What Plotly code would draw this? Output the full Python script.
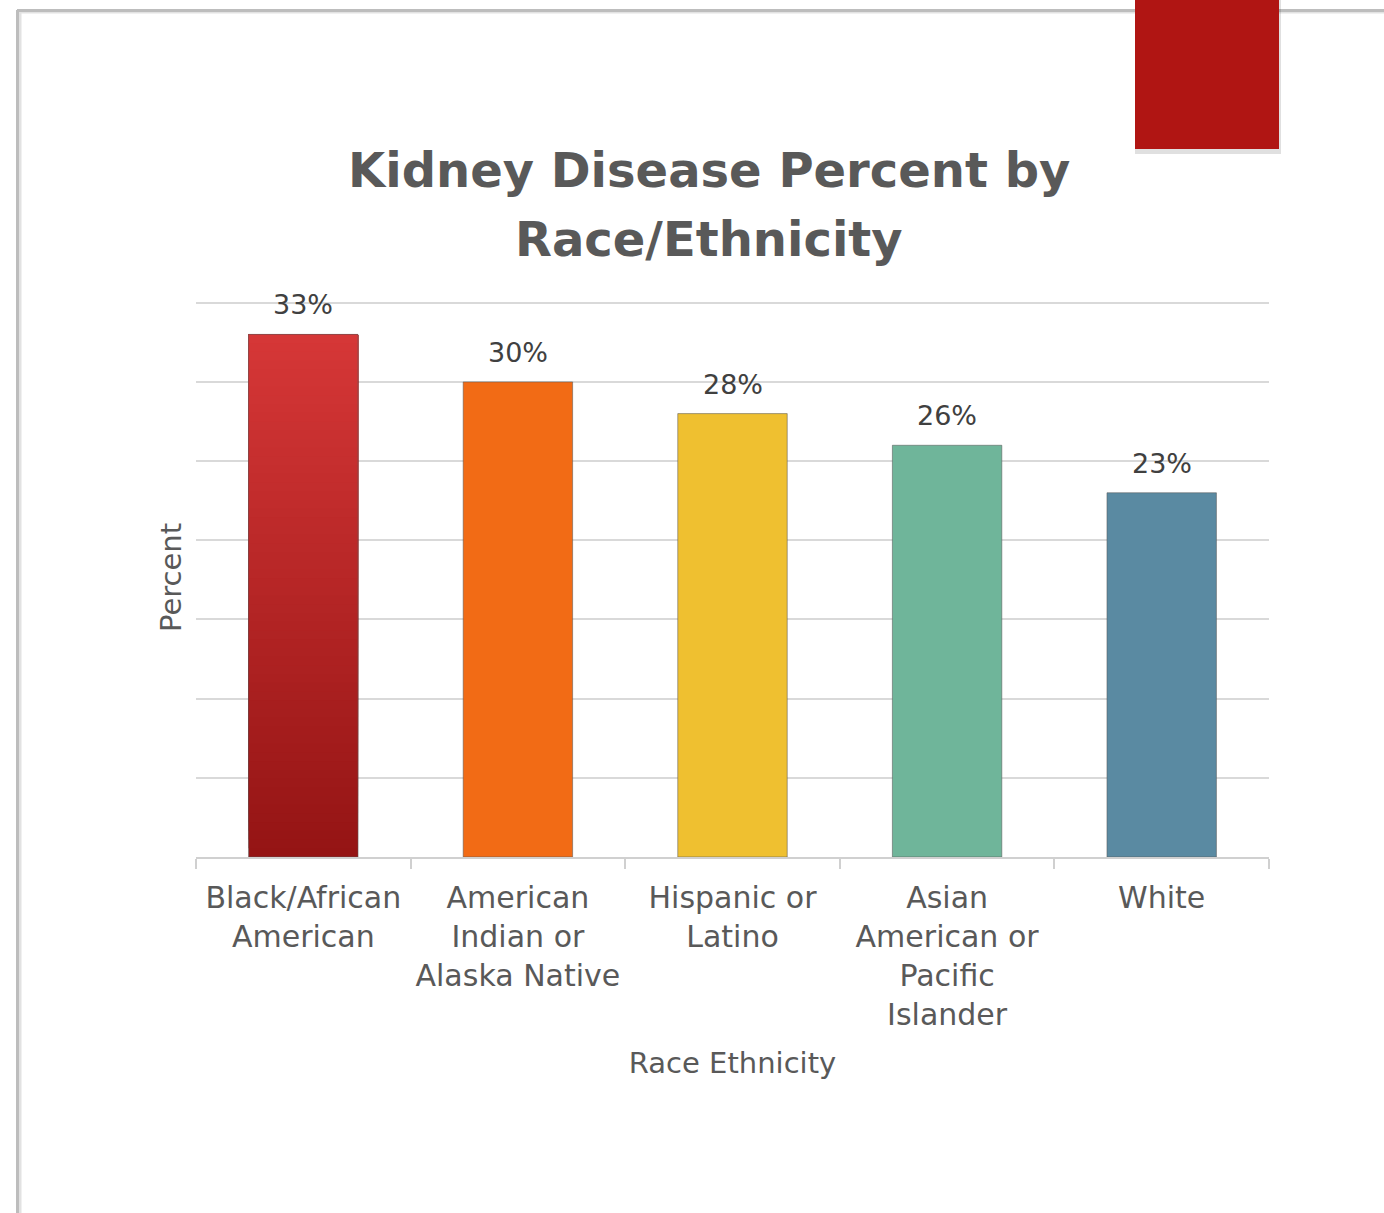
import plotly.graph_objects as go

categories = ["Black/African<br>American", "American<br>Indian or<br>Alaska Native",
              "Hispanic or<br>Latino", "Asian<br>American or<br>Pacific<br>Islander", "White"]
values = [33, 30, 28, 26, 23]
bar_colors = ["#C02C2C", "#F26B15", "#EFC030", "#6FB59A", "#5A8AA2"]
labels = [f"{v}%" for v in values]
title_lines = ["Kidney Disease Percent by", "Race/Ethnicity"]

W, H = 1384, 1213
YMAX = 35.3
L, R, B = 196, 1269, 857
T = B - round((B - 303) * YMAX / 35)

FONT = "DejaVu Sans"

def px_x(p):
    return (p - L) / (R - L)

def px_y(p):
    return (B - p) / (B - T)

fig = go.Figure()

# gradient for first bar via nested segments (each later segment covers the upper part)
N = 60
top_rgb = (0xD6, 0x37, 0x37)
bot_rgb = (0x94, 0x14, 0x14)
seg_colors = []
for i in range(N):
    t = (i + 0.5) / N
    c = tuple(int(round(bot_rgb[k] + (top_rgb[k] - bot_rgb[k]) * t)) for k in range(3))
    seg_colors.append("rgb(%d,%d,%d)" % c)
seg_h = values[0] / N
bases = [seg_h * i for i in range(N)]
fig.add_trace(go.Bar(
    x=[categories[0]] * N, y=[values[0] - b for b in bases], base=bases,
    marker=dict(color=seg_colors, line=dict(width=0)),
    width=0.51, hoverinfo="skip", showlegend=False,
))

main_colors = ["rgba(0,0,0,0)"] + bar_colors[1:]
fig.add_trace(go.Bar(
    x=categories, y=values, width=0.51,
    marker=dict(color=main_colors, line=dict(color="rgba(90,90,90,0.55)", width=1)),
    showlegend=False,
))

for c, v, lab in zip(categories, values, labels):
    fig.add_annotation(x=c, y=v, text=lab, showarrow=False, yanchor="bottom", yshift=12,
                       font=dict(family=FONT, size=27, color="#404040"))

shapes = []
shapes.append(dict(type="line", xref="paper", yref="paper", x0=px_x(20), x1=px_x(20),
                   y0=px_y(12), y1=px_y(H + 5), line=dict(color="#e2e2e2", width=3)))
shapes.append(dict(type="line", xref="paper", yref="paper", x0=px_x(20), x1=px_x(W + 5),
                   y0=px_y(12), y1=px_y(12), line=dict(color="#e2e2e2", width=3)))
shapes.append(dict(type="line", xref="paper", yref="paper", x0=px_x(17.5), x1=px_x(17.5),
                   y0=px_y(10), y1=px_y(H + 5), line=dict(color="#bdbdbd", width=3)))
shapes.append(dict(type="line", xref="paper", yref="paper", x0=px_x(17), x1=px_x(W + 5),
                   y0=px_y(10.5), y1=px_y(10.5), line=dict(color="#bdbdbd", width=3)))
shapes.append(dict(type="rect", xref="paper", yref="paper", x0=px_x(1135), x1=px_x(1281),
                   y0=px_y(-5), y1=px_y(154), line=dict(width=0), fillcolor="rgba(0,0,0,0.12)"))
shapes.append(dict(type="rect", xref="paper", yref="paper", x0=px_x(1135), x1=px_x(1279),
                   y0=px_y(-5), y1=px_y(149), line=dict(width=0), fillcolor="#B01513"))

for line, yc in zip(title_lines, [170, 239]):
    fig.add_annotation(xref="paper", yref="paper", x=px_x(709), y=px_y(yc),
                       text=f"<b>{line}</b>", showarrow=False,
                       xanchor="center", yanchor="middle",
                       font=dict(family=FONT, size=48, color="#595959"))

fig.update_layout(
    width=W, height=H, margin=dict(l=L, r=W - R, t=T, b=H - B),
    paper_bgcolor="white", plot_bgcolor="white",
    barmode="overlay", bargap=0.49, showlegend=False,
    shapes=shapes,
    xaxis=dict(
        showgrid=False, showline=True, linecolor="#d0d0d0", linewidth=2,
        ticks="outside", tickson="boundaries", ticklen=10, tickcolor="#d0d0d0", tickwidth=2,
        ticklabelstandoff=13, tickangle=0,
        tickfont=dict(family=FONT, size=30, color="#595959"),
        title=dict(text="Race Ethnicity", font=dict(family=FONT, size=29, color="#595959"), standoff=22),
        fixedrange=True,
    ),
    yaxis=dict(
        range=[0, YMAX], tick0=0, dtick=5, showgrid=True, gridcolor="#d9d9d9", gridwidth=2,
        showticklabels=False, zeroline=False, showline=False,
        title=dict(text="Percent", font=dict(family=FONT, size=29, color="#595959"), standoff=4),
        fixedrange=True,
    ),
)

fig.write_html("out.html")
